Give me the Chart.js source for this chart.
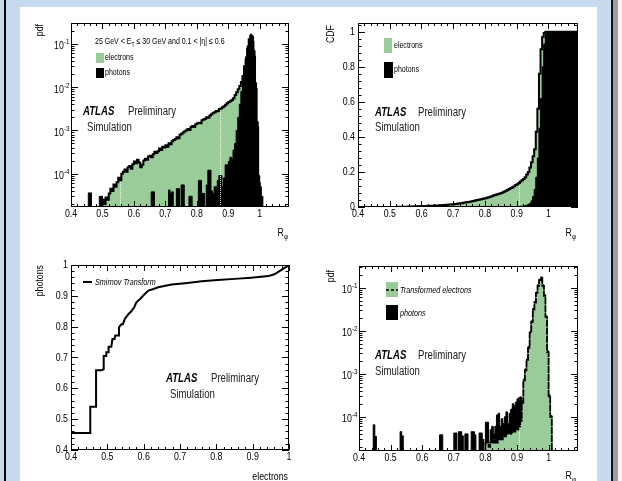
<!DOCTYPE html>
<html>
<head>
<meta charset="utf-8">
<script src="https://cdn.jsdelivr.net/npm/chart.js@4.4.0/dist/chart.umd.min.js"></script>
<style>
    html, body { margin: 0; padding: 0; }
    body { width: 622px; height: 481px; background: #c6d9ef; position: relative; overflow: hidden; }
    #sheet { position: absolute; left: 20px; top: 7px; width: 577px; height: 474px; background: #fff; }
    #lineL { position: absolute; left: 4px; top: 0; width: 2px; height: 481px; background: #000; }
    #lineR { position: absolute; left: 611px; top: 0; width: 2px; height: 481px; background: #111; }
    #shadeR { position: absolute; left: 613px; top: 0; width: 5px; height: 481px; background: #9c9c9c; }
    #edgeR { position: absolute; left: 618px; top: 0; width: 4px; height: 481px; background: #f4f4f4; }
    canvas { position: absolute; left: 0; top: 0; }
</style>
</head>
<body>
<div id="lineL"></div>
<div id="sheet"></div>
<div id="lineR"></div>
<div id="shadeR"></div>
<div id="edgeR"></div>
<canvas id="pdfChart" width="622" height="481"></canvas>
<canvas id="cdfChart" width="622" height="481"></canvas>
<canvas id="smirnovChart" width="622" height="481"></canvas>
<canvas id="transformChart" width="622" height="481"></canvas>
<script>
// histogram binning: 140 bins of 0.005 from 0.40 to 1.10
const binStart = 0.40;
const binWidth = 0.005;

// top left: pdf (each row = 10 bins, first edge in the comment)
const pdfElectrons = [
    0, 0, 0, 0, 0, 0, 0, 0, 0, 0,                                                  // 0.40
    0, 0, 0, 0, 0, 0, 0, 0, 0, 0,                                                  // 0.45
    2.5e-5, 2.0e-5, 2.8e-5, 2.5e-5, 3.5e-5, 4.5e-5, 4.0e-5, 5.6e-5, 5.0e-5, 6.3e-5, // 0.50
    8.0e-5, 7.0e-5, 1.0e-4, 1.1e-4, 1.25e-4, 1.1e-4, 1.4e-4, 1.5e-4, 1.3e-4, 1.65e-4, // 0.55
    1.9e-4, 1.75e-4, 2.1e-4, 1.8e-4, 1.4e-4, 1.6e-4, 2.0e-4, 2.2e-4, 2.1e-4, 2.5e-4, // 0.60
    2.6e-4, 2.4e-4, 2.8e-4, 3.2e-4, 3.0e-4, 3.3e-4, 3.8e-4, 3.5e-4, 4.2e-4, 4.0e-4, // 0.65
    4.5e-4, 4.2e-4, 5.0e-4, 4.8e-4, 5.6e-4, 6.0e-4, 6.3e-4, 6.9e-4, 6.6e-4, 7.9e-4, // 0.70
    8.3e-4, 8.9e-4, 9.5e-4, 1.0e-3, 1.07e-3, 1.02e-3, 1.2e-3, 1.26e-3, 1.2e-3, 1.38e-3, // 0.75
    1.45e-3, 1.5e-3, 1.45e-3, 1.7e-3, 1.78e-3, 1.86e-3, 2.0e-3, 1.95e-3, 2.2e-3, 2.35e-3, // 0.80
    2.5e-3, 2.6e-3, 2.8e-3, 2.75e-3, 3.1e-3, 3.2e-3, 3.4e-3, 3.6e-3, 3.9e-3, 4.2e-3, // 0.85
    4.5e-3, 4.7e-3, 5.0e-3, 5.5e-3, 6.5e-3, 7.6e-3, 8.9e-3, 1.05e-2, 1.3e-2, 1.8e-2, // 0.90
    3.0e-2, 4.2e-2, 7.6e-2, 0.125, 0.15, 0.11, 0.05, 9e-3, 1.2e-3, 6e-5,           // 0.95
    0, 0, 0, 0, 0, 0, 0, 0, 0, 0,                                                  // 1.00
    0, 0, 0, 0, 0, 0, 0, 0, 0, 0                                                   // 1.05
];
const pdfPhotons = [
    0, 0, 0, 0, 0, 0, 0, 0, 0, 0,                                                  // 0.40
    0, 3.6e-5, 3.6e-5, 0, 0, 0, 0, 0, 3.0e-5, 3.0e-5,                              // 0.45
    0, 0, 0, 0, 0, 0, 0, 0, 0, 0,                                                  // 0.50
    0, 0, 0, 0, 0, 0, 0, 0, 0, 0,                                                  // 0.55
    0, 0, 0, 0, 0, 0, 0, 0, 0, 0,                                                  // 0.60
    0, 3.8e-5, 3.8e-5, 0, 0, 0, 0, 0, 0, 0,                                        // 0.65
    0, 0, 4.2e-5, 3.5e-5, 3.8e-5, 0, 0, 4.5e-5, 4.5e-5, 0,                         // 0.70
    5.5e-5, 5.5e-5, 0, 0, 0, 3.0e-5, 3.0e-5, 0, 0, 0,                              // 0.75
    0, 7e-5, 7e-5, 3.5e-5, 3.5e-5, 0, 5.5e-5, 1.2e-4, 1.2e-4, 4e-5,                // 0.80
    3.5e-5, 5e-5, 5e-5, 7e-5, 9e-5, 9e-5, 5e-5, 8e-5, 1.6e-4, 1.6e-4,              // 0.85
    1.9e-4, 2.4e-4, 2.2e-4, 3.5e-4, 5e-4, 1e-3, 2e-3, 4e-3, 7.9e-3, 1.6e-2,        // 0.90
    2.8e-2, 5e-2, 8.9e-2, 0.13, 0.166, 0.15, 0.07, 1.25e-2, 1.6e-3, 9e-5,          // 0.95
    5e-5, 3e-5, 0, 0, 0, 0, 0, 0, 0, 0,                                            // 1.00
    0, 0, 0, 0, 0, 0, 0, 0, 0, 0                                                   // 1.05
];

// top right: cumulative distributions
const cdfElectrons = [
    0, 0, 0, 0, 0, 0, 0, 0, 0, 0,
    0, 0, 0, 0, 0, 0, 0, 0, 0, 0,
    0.0002, 0.0003, 0.0004, 0.0005, 0.0006, 0.0008, 0.001, 0.0012, 0.0014, 0.0017,
    0.002, 0.0023, 0.0026, 0.003, 0.0033, 0.0037, 0.004, 0.0043, 0.0046, 0.005,
    0.0053, 0.0057, 0.006, 0.0064, 0.0067, 0.007, 0.0074, 0.0078, 0.0082, 0.0086,
    0.009, 0.0097, 0.0104, 0.0111, 0.0118, 0.0125, 0.0132, 0.014, 0.0148, 0.0155,
    0.016, 0.0172, 0.0184, 0.0196, 0.0208, 0.022, 0.0236, 0.0252, 0.0268, 0.0284,
    0.03, 0.032, 0.034, 0.036, 0.038, 0.04, 0.042, 0.044, 0.046, 0.048,
    0.05, 0.053, 0.056, 0.059, 0.062, 0.065, 0.068, 0.071, 0.074, 0.077,
    0.08, 0.084, 0.088, 0.093, 0.098, 0.103, 0.108, 0.113, 0.119, 0.125,
    0.13, 0.137, 0.145, 0.152, 0.16, 0.17, 0.185, 0.2, 0.225, 0.255,
    0.29, 0.33, 0.43, 0.56, 0.76, 0.9, 0.97, 0.993, 1, 1,
    1, 1, 1, 1, 1, 1, 1, 1, 1, 1,
    1, 1, 1, 1, 1, 1, 1, 1, 1, 1
];
const cdfPhotons = [
    0, 0, 0, 0, 0, 0, 0, 0, 0, 0,
    0, 0, 0, 0, 0, 0, 0, 0, 0, 0,
    0, 0, 0, 0, 0, 0, 0, 0, 0, 0,
    0, 0, 0, 0, 0, 0, 0, 0, 0, 0,
    0, 0, 0, 0, 0, 0, 0, 0, 0, 0,
    0, 0, 0, 0, 0, 0, 0, 0, 0, 0,
    0.001, 0.001, 0.001, 0.001, 0.001, 0.001, 0.001, 0.001, 0.001, 0.001,
    0.001, 0.001, 0.001, 0.001, 0.001, 0.001, 0.001, 0.001, 0.001, 0.001,
    0.001, 0.001, 0.001, 0.001, 0.001, 0.001, 0.001, 0.001, 0.001, 0.001,
    0.002, 0.002, 0.002, 0.002, 0.002, 0.002, 0.002, 0.002, 0.002, 0.002,
    0.003, 0.003, 0.004, 0.005, 0.006, 0.008, 0.011, 0.015, 0.02, 0.035,
    0.06, 0.1, 0.17, 0.28, 0.45, 0.62, 0.8, 0.93, 0.985, 0.998,
    1, 1, 1, 1, 1, 1, 1, 1, 1, 1,
    1, 1, 1, 1, 1, 1, 1, 1, 1, 1
];

// bottom left: Smirnov transform (electron CDF -> photon CDF)
const smirnovElectrons = [0.400, 0.453, 0.453, 0.469, 0.469, 0.483, 0.490, 0.490, 0.497, 0.497,
    0.5035, 0.5035, 0.511, 0.514, 0.520, 0.522, 0.5295, 0.532, 0.539, 0.543,
    0.548, 0.559, 0.566, 0.574, 0.580, 0.590, 0.599, 0.613, 0.627, 0.640,
    0.677, 0.714, 0.760, 0.804, 0.850, 0.896, 0.943, 0.960, 0.975, 0.990, 1.000];
const smirnovPhotons = [0.455, 0.455, 0.540, 0.540, 0.659, 0.659, 0.662, 0.705, 0.705, 0.717,
    0.717, 0.735, 0.735, 0.760, 0.760, 0.771, 0.771, 0.798, 0.808, 0.808,
    0.825, 0.842, 0.850, 0.863, 0.879, 0.890, 0.901, 0.917, 0.922, 0.928,
    0.937, 0.941, 0.947, 0.951, 0.955, 0.959, 0.964, 0.970, 0.981, 0.992, 1.000];

// bottom right: transformed electrons vs photons
const pdfTransformed = [
    0, 0, 0, 0, 0, 0, 0, 0, 0, 0,
    0, 0, 0, 0, 0, 0, 0, 0, 0, 0,
    0, 0, 0, 0, 0, 0, 0, 0, 0, 0,
    0, 0, 0, 0, 0, 0, 0, 0, 0, 0,
    0, 0, 0, 0, 0, 0, 0, 0, 0, 0,
    0, 0, 0, 0, 0, 0, 0, 0, 0, 0,
    0, 0, 0, 0, 0, 0, 0, 0, 0, 0,
    0, 0, 0, 0, 0, 0, 0, 0, 0, 0,
    2.5e-5, 2.5e-5, 2e-5, 2.5e-5, 3e-5, 2.5e-5, 3e-5, 2.5e-5, 3e-5, 3.5e-5,        // 0.80
    3e-5, 3.5e-5, 3.5e-5, 4e-5, 4e-5, 4.5e-5, 4e-5, 4.5e-5, 4.5e-5, 5e-5,          // 0.85
    5e-5, 6e-5, 8e-5, 2.1e-4, 7e-4, 1.2e-3, 2.1e-3, 4e-3, 8.9e-3, 1.6e-2,          // 0.90
    3.1e-2, 4.5e-2, 7.6e-2, 0.11, 0.15, 0.17, 0.11, 6.5e-2, 2.1e-2, 3.2e-3,        // 0.95
    3e-4, 1e-4, 0, 0, 0, 0, 0, 0, 0, 0,                                            // 1.00
    0, 0, 0, 0, 0, 0, 0, 0, 0, 0
];
const pdfPhotonsTarget = [
    0, 0, 0, 0, 0, 0, 0, 0, 0, 6.5e-5,                                             // 0.40
    3.5e-5, 0, 0, 0, 0, 0, 0, 0, 0, 0,                                             // 0.45
    0, 0, 0, 0, 0, 0, 4.5e-5, 3.6e-5, 0, 0,                                        // 0.50
    0, 0, 0, 0, 0, 0, 0, 0, 0, 0,                                                  // 0.55
    0, 0, 0, 0, 0, 0, 0, 0, 0, 0,                                                  // 0.60
    0, 3.8e-5, 3.8e-5, 0, 0, 0, 0, 0, 0, 0,                                        // 0.65
    4.2e-5, 4.2e-5, 0, 4.5e-5, 4.5e-5, 3.6e-5, 0, 4e-5, 4e-5, 0,                   // 0.70
    0, 4.5e-5, 4.5e-5, 3.8e-5, 0, 0, 4.2e-5, 4.2e-5, 3e-5, 0,                      // 0.75
    7.5e-5, 7.5e-5, 0, 5e-5, 6e-5, 4e-5, 6e-5, 1.1e-4, 1.2e-4, 6e-5,               // 0.80
    9e-5, 7e-5, 1.0e-4, 1.3e-4, 7e-5, 1.2e-4, 1.5e-4, 2.0e-4, 1.8e-4, 2.2e-4,      // 0.85
    2.6e-4, 2.8e-4, 2.9e-4, 2.4e-4, 7.5e-4, 1.3e-3, 2.2e-3, 4.3e-3, 9.5e-3, 1.7e-2, // 0.90
    3.3e-2, 4.8e-2, 8e-2, 0.117, 0.158, 0.178, 0.117, 6.9e-2, 2.2e-2, 3.4e-3,      // 0.95
    3.2e-4, 1.07e-4, 0, 0, 0, 0, 0, 0, 0, 0,                                       // 1.00
    0, 0, 0, 0, 0, 0, 0, 0, 0, 0
];

// axis ticks
const rTicks = [0.4, 0.5, 0.6, 0.7, 0.8, 0.9, 1];
const rTickLabels = ['0.4', '0.5', '0.6', '0.7', '0.8', '0.9', '1'];
const logTicks = [1e-4, 1e-3, 1e-2, 1e-1];
const logTickExponents = ['-4', '-3', '-2', '-1'];
const cdfTicks = [0, 0.2, 0.4, 0.6, 0.8, 1];
const cdfTickLabels = ['0', '0.2', '0.4', '0.6', '0.8', '1'];
const smirnovTicks = [0.4, 0.5, 0.6, 0.7, 0.8, 0.9, 1];
const smirnovTickLabels = ['0.4', '0.5', '0.6', '0.7', '0.8', '0.9', '1'];

const W = 622, H = 481;
const GREEN = 'rgb(153, 204, 153)';
const FONT = '"Liberation Sans", Arial, sans-serif';
const SQ = 0.8;   // text is a bit condensed in the original

function histData(values, floor) {
    const pts = values.map((v, i) => ({ x: binStart + i * binWidth, y: v > 0 ? v : floor }));
    const last = values[values.length - 1];
    pts.push({ x: binStart + values.length * binWidth, y: last > 0 ? last : floor });
    return pts;
}

function richText(ctx, parts, x, y, size, style, align, sx) {
    sx = sx || SQ;
    const pieces = parts.map(p => {
        const s = (p.sub || p.sup) ? size * 0.72 : size;
        ctx.font = `${style} ${s}px ${FONT}`;
        return { p, s, w: ctx.measureText(p.t).width * sx };
    });
    const total = pieces.reduce((a, b) => a + b.w, 0);
    let cx = align === 'right' ? x - total : (align === 'center' ? x - total / 2 : x);
    ctx.textBaseline = 'middle';
    ctx.textAlign = 'left';
    pieces.forEach(({ p, s, w }) => {
        ctx.font = `${style} ${s}px ${FONT}`;
        let dy = 0;
        if (p.sub) dy = size * 0.35;
        if (p.sup) dy = -size * 0.38;
        ctx.save();
        ctx.translate(cx, y + dy);
        ctx.scale(sx, 1);
        ctx.fillText(p.t, 0, 0);
        ctx.restore();
        cx += w;
    });
    return total;
}

function atlasLabel(ctx, x, y, prelimX, simX, simY) {
    ctx.fillStyle = '#000';
    richText(ctx, [{ t: 'ATLAS' }], x, y, 12, 'bold italic', 'left');
    ctx.fillStyle = '#222';
    richText(ctx, [{ t: 'Preliminary' }], prelimX, y, 12, '', 'left');
    richText(ctx, [{ t: 'Simulation' }], simX, simY, 12, '', 'left');
}

function minorValues(ticks, div, lo, hi) {
    const out = [];
    const step = (ticks[1] - ticks[0]) / div;
    for (let v = ticks[0] - (ticks[1] - ticks[0]); v <= hi + 1e-9; v += step) {
        if (v >= lo - 1e-9) out.push(v);
    }
    return out;
}

function framePlugin(deco) {
    return {
        id: 'atlasFrame',
        afterDatasetsDraw(chart) {
            const ctx = chart.ctx, a = chart.chartArea, ys = chart.scales.y, xs = chart.scales.x;
            if (!deco.gaps) return;
            ctx.save();
            ctx.beginPath();
            ctx.rect(a.left, a.top, a.right - a.left, a.bottom - a.top);
            ctx.clip();
            ctx.strokeStyle = 'rgba(255,255,255,0.9)';
            ctx.lineWidth = 1;
            ctx.setLineDash([1, 1]);
            deco.gaps.xs.forEach(x => {
                const v = deco.gaps.values[Math.floor((x - binStart) / binWidth)];
                const px = Math.round(xs.getPixelForValue(x)) + 0.5;
                ctx.beginPath();
                ctx.moveTo(px, a.bottom);
                ctx.lineTo(px, ys.getPixelForValue(v) + 2);
                ctx.stroke();
            });
            ctx.restore();
        },
        afterDraw(chart) {
            const ctx = chart.ctx, a = chart.chartArea, xs = chart.scales.x, ys = chart.scales.y;
            ctx.save();
            ctx.strokeStyle = '#000';
            ctx.lineWidth = 1;
            ctx.strokeRect(a.left + 0.5, a.top + 0.5, a.right - a.left - 1, a.bottom - a.top - 1);

            // x ticks, bottom and top, pointing inwards
            const xMinor = minorValues(deco.xTicks, 5, xs.min, xs.max);
            ctx.beginPath();
            xMinor.forEach(v => {
                const px = Math.round(xs.getPixelForValue(v)) + 0.5;
                const major = deco.xTicks.some(t => Math.abs(t - v) < 1e-6);
                const len = major ? 6 : 3;
                ctx.moveTo(px, a.bottom); ctx.lineTo(px, a.bottom - len);
                ctx.moveTo(px, a.top); ctx.lineTo(px, a.top + len);
            });
            ctx.stroke();

            // y ticks, left and right
            let yMinor = [];
            if (deco.yLog) {
                for (let k = -6; k <= 0; k++) {
                    for (let m = 1; m <= 9; m++) {
                        const v = m * Math.pow(10, k);
                        if (v >= ys.min && v <= ys.max) yMinor.push({ v, major: m === 1 });
                    }
                }
            } else {
                yMinor = minorValues(deco.yTicks, 5, ys.min, ys.max).map(v => ({
                    v, major: deco.yTicks.some(t => Math.abs(t - v) < 1e-6)
                }));
            }
            ctx.beginPath();
            yMinor.forEach(({ v, major }) => {
                const py = Math.round(ys.getPixelForValue(v)) + 0.5;
                const len = major ? 7 : 3.5;
                ctx.moveTo(a.left, py); ctx.lineTo(a.left + len, py);
                ctx.moveTo(a.right, py); ctx.lineTo(a.right - len, py);
            });
            ctx.stroke();

            // tick labels
            ctx.fillStyle = '#000';
            deco.xTicks.forEach((v, i) => {
                richText(ctx, [{ t: deco.xLabels[i] }], xs.getPixelForValue(v), a.bottom + 6.5, 11, '', 'center');
            });
            deco.yTicks.forEach((v, i) => {
                const py = ys.getPixelForValue(v);
                if (deco.yLog) {
                    richText(ctx, [{ t: '10' }, { t: deco.yLabels[i], sup: true }], a.left - 1.5, py + 2.5, 11, '', 'right');
                } else {
                    richText(ctx, [{ t: deco.yLabels[i] }], a.left - 3, py, 11, '', 'right');
                }
            });

            // axis titles
            ctx.save();
            ctx.translate(deco.yTitle.x, deco.yTitle.y);
            ctx.rotate(-Math.PI / 2);
            richText(ctx, [{ t: deco.yTitle.t }], 0, 0, 11, '', 'right');
            ctx.restore();
            richText(ctx, deco.xTitle.parts, deco.xTitle.x, deco.xTitle.y, 11, '', 'right');

            deco.extra(ctx);
            ctx.restore();
        }
    };
}

function makeChart(id, frame, scales, datasets, deco) {
    return new Chart(document.getElementById(id), {
        type: 'line',
        data: { datasets },
        options: {
            responsive: false,
            animation: false,
            devicePixelRatio: 1,
            layout: { padding: { left: frame.left, top: frame.top, right: W - frame.right, bottom: H - frame.bottom } },
            plugins: { legend: { display: false }, tooltip: { enabled: false } },
            elements: { point: { radius: 0 }, line: { tension: 0 } },
            scales: {
                x: Object.assign({ type: 'linear', display: false }, scales.x),
                y: Object.assign({ display: false }, scales.y)
            }
        },
        plugins: [framePlugin(deco)]
    });
}

const rPhi = [{ t: 'R' }, { t: 'φ', sub: true }];

// ---- top left: pdf ----
makeChart('pdfChart',
    { left: 71, top: 23, right: 289, bottom: 207 },
    { x: { min: 0.4, max: 1.093 }, y: { type: 'logarithmic', min: 1.7e-5, max: 0.3 } },
    [
        { data: histData(pdfPhotons, 1e-9), stepped: true, borderColor: '#000', borderWidth: 1, backgroundColor: '#000', fill: 'start', clip: 0 },
        { data: histData(pdfElectrons, 1e-9), stepped: true, borderColor: '#000', borderWidth: 2, backgroundColor: GREEN, fill: 'start', clip: 0 }
    ],
    {
        xTicks: rTicks, xLabels: rTickLabels,
        yLog: true, yTicks: logTicks, yLabels: logTickExponents,
        yTitle: { t: 'pdf', x: 40, y: 24 },
        xTitle: { parts: rPhi, x: 288, y: 233 },
        gaps: { xs: [0.556, 0.873], values: pdfElectrons },
        extra(ctx) {
            ctx.fillStyle = '#000';
            richText(ctx, [{ t: '25 GeV < E' }, { t: 'T', sub: true }, { t: ' ≤ 30 GeV and 0.1 < |η| ≤ 0.6' }], 95, 42, 9, '', 'left', 0.78);
            ctx.fillStyle = GREEN; ctx.fillRect(96, 53, 8, 10);
            ctx.fillStyle = '#000'; ctx.fillRect(96, 68, 8, 10);
            richText(ctx, [{ t: 'electrons' }], 105, 58, 9, '', 'left', 0.78);
            richText(ctx, [{ t: 'photons' }], 105, 73, 9, '', 'left', 0.78);
            atlasLabel(ctx, 83, 112, 128, 87, 128);
        }
    });

// ---- top right: CDF ----
makeChart('cdfChart',
    { left: 358, top: 23, right: 578, bottom: 207 },
    { x: { min: 0.4, max: 1.093 }, y: { type: 'linear', min: 0, max: 1.05 } },
    [
        { data: histData(cdfPhotons, 0), stepped: true, borderColor: '#000', borderWidth: 1, backgroundColor: '#000', fill: 'start', clip: 0 },
        { data: histData(cdfElectrons, 0), stepped: true, borderColor: '#000', borderWidth: 2, backgroundColor: GREEN, fill: 'start', clip: 0 }
    ],
    {
        xTicks: rTicks, xLabels: rTickLabels,
        yLog: false, yTicks: cdfTicks, yLabels: cdfTickLabels,
        yTitle: { t: 'CDF', x: 331, y: 25 },
        xTitle: { parts: rPhi, x: 576, y: 233 },
        gaps: { xs: [0.907], values: cdfElectrons },
        extra(ctx) {
            ctx.fillStyle = GREEN; ctx.fillRect(384, 38, 8, 15);
            ctx.fillStyle = '#000'; ctx.fillRect(384, 62, 9, 16);
            richText(ctx, [{ t: 'electrons' }], 394, 46, 9, '', 'left', 0.78);
            richText(ctx, [{ t: 'photons' }], 394, 70, 9, '', 'left', 0.78);
            atlasLabel(ctx, 375, 113, 418, 375, 128);
        }
    });

// ---- bottom left: Smirnov transform ----
makeChart('smirnovChart',
    { left: 71, top: 265, right: 289, bottom: 450 },
    { x: { min: 0.4, max: 1.0 }, y: { type: 'linear', min: 0.4, max: 1.0 } },
    [
        { data: smirnovElectrons.map((x, i) => ({ x, y: smirnovPhotons[i] })), borderColor: '#000', borderWidth: 2, fill: false, clip: 0 }
    ],
    {
        xTicks: smirnovTicks, xLabels: smirnovTickLabels,
        yLog: false, yTicks: smirnovTicks, yLabels: smirnovTickLabels,
        yTitle: { t: 'photons', x: 40, y: 265 },
        xTitle: { parts: [{ t: 'electrons' }], x: 288, y: 477 },
        extra(ctx) {
            ctx.fillStyle = '#000';
            ctx.fillRect(83, 281, 9, 2);
            richText(ctx, [{ t: 'Smirnov Transform' }], 95, 282, 9, 'italic', 'left', 0.8);
            atlasLabel(ctx, 166, 379, 211, 170, 395);
        }
    });

// ---- bottom right: transformed electrons ----
makeChart('transformChart',
    { left: 359, top: 266, right: 578, bottom: 451 },
    { x: { min: 0.4, max: 1.093 }, y: { type: 'logarithmic', min: 1.6e-5, max: 0.32 } },
    [
        { data: histData(pdfTransformed, 1e-9), stepped: true, borderColor: '#000', borderWidth: 1.8, borderDash: [7, 1], backgroundColor: GREEN, fill: 'start', clip: 0 },
        { data: histData(pdfPhotonsTarget, 1e-9), stepped: true, borderColor: '#000', borderWidth: 1, backgroundColor: '#000', fill: 'start', clip: 0 }
    ],
    {
        xTicks: rTicks, xLabels: rTickLabels,
        yLog: true, yTicks: logTicks, yLabels: logTickExponents,
        yTitle: { t: 'pdf', x: 331, y: 270 },
        xTitle: { parts: rPhi, x: 576, y: 476 },
        gaps: { xs: [0.906], values: pdfTransformed },
        extra(ctx) {
            ctx.fillStyle = GREEN; ctx.fillRect(386, 282, 12, 15);
            ctx.strokeStyle = '#000'; ctx.lineWidth = 1.5; ctx.setLineDash([3, 2]);
            ctx.beginPath(); ctx.moveTo(386, 290); ctx.lineTo(398, 290); ctx.stroke();
            ctx.setLineDash([]);
            ctx.fillStyle = '#000'; ctx.fillRect(386, 305, 12, 15);
            richText(ctx, [{ t: 'Transformed electrons' }], 400, 290, 9, 'italic', 'left', 0.8);
            richText(ctx, [{ t: 'photons' }], 400, 313, 9, 'italic', 'left', 0.8);
            atlasLabel(ctx, 375, 356, 418, 375, 372);
        }
    });
</script>
</body>
</html>
